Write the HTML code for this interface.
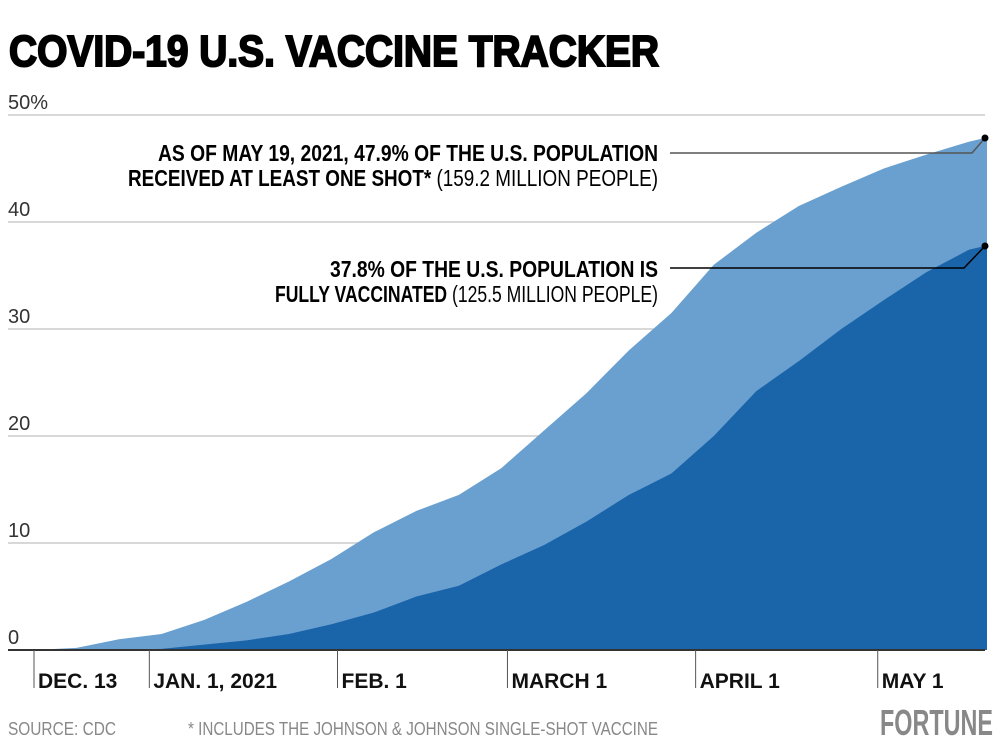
<!DOCTYPE html>
<html><head><meta charset="utf-8"><style>
html,body{margin:0;padding:0;background:#fff;}
svg{display:block;}
text{font-family:"Liberation Sans Narrow","Liberation Sans",sans-serif;}
</style></head><body>
<svg id="chart" width="1001" height="754" viewBox="0 0 1001 754" xmlns="http://www.w3.org/2000/svg">
<text x="9" y="66" font-size="44" font-weight="bold" fill="#000" stroke="#000" stroke-width="2" textLength="650" lengthAdjust="spacingAndGlyphs">COVID-19 U.S. VACCINE TRACKER</text>
<g id="grid"></g>
<g id="areas"></g>
<g id="xaxis"></g>
<g id="annot">
<polyline points="670,153 972,153 985,138" fill="none" stroke="#555" stroke-width="1.5"/>
<polyline points="670,268 964,268 985,246" fill="none" stroke="#000" stroke-width="1.5"/>
<circle cx="985" cy="138" r="3.5" fill="#000"/>
<circle cx="985" cy="246" r="3.5" fill="#000"/>
<text x="658" y="161" text-anchor="end" font-size="23" font-weight="bold" textLength="500" lengthAdjust="spacingAndGlyphs">AS OF MAY 19, 2021, 47.9% OF THE U.S. POPULATION</text>
<text x="658" y="186" text-anchor="end" font-size="23" textLength="530" lengthAdjust="spacingAndGlyphs"><tspan font-weight="bold">RECEIVED AT LEAST ONE SHOT*</tspan> (159.2 MILLION PEOPLE)</text>
<text x="658" y="277" text-anchor="end" font-size="23" font-weight="bold" textLength="328" lengthAdjust="spacingAndGlyphs">37.8% OF THE U.S. POPULATION IS</text>
<text x="658" y="302" text-anchor="end" font-size="23" textLength="383" lengthAdjust="spacingAndGlyphs"><tspan font-weight="bold">FULLY VACCINATED</tspan> (125.5 MILLION PEOPLE)</text>
</g>
<text x="8" y="735" font-size="18" fill="#888" textLength="108" lengthAdjust="spacingAndGlyphs">SOURCE: CDC</text>
<text x="188" y="735" font-size="18" fill="#888" textLength="470" lengthAdjust="spacingAndGlyphs">* INCLUDES THE JOHNSON &amp; JOHNSON SINGLE-SHOT VACCINE</text>
<text x="880" y="735" font-size="36" font-weight="bold" fill="#888" textLength="113" lengthAdjust="spacingAndGlyphs">FORTUNE</text>
</svg>
<script>
const days = [0,7,14,21,28,35,42,49,56,63,70,77,84,91,98,105,112,119,126,133,140,147,154,157];
const atLeastOne = [0,0.2,1.0,1.5,2.8,4.5,6.4,8.5,11,13,14.5,17,20.5,24,28,31.5,36,39,41.5,43.3,45,46.3,47.5,47.9];
const fully = [0,0,0,0.1,0.5,0.9,1.5,2.4,3.5,5,6,8,9.8,12,14.5,16.5,20,24.2,27,30,32.7,35.3,37.4,37.8];
const yTicks = [0,10,20,30,40,50];
const yTickLabels = ["0","10","20","30","40","50%"];
const xTickDays = [0,19,50,78,109,139];
const xTickLabels = ["DEC. 13","JAN. 1, 2021","FEB. 1","MARCH 1","APRIL 1","MAY 1"];
const NS="http://www.w3.org/2000/svg";
const x = d => 34 + d*6.07;
const y = v => 650 - v*10.7;
function mk(tag, attrs, parent){const e=document.createElementNS(NS,tag);for(const k in attrs)e.setAttribute(k,attrs[k]);parent.appendChild(e);return e;}
const grid=document.getElementById('grid');
yTicks.forEach((t,i)=>{
  if(t>0){const l=mk('line',{x1:8,x2:985,y1:y(t),y2:y(t),stroke:'#ccc','stroke-width':1.5},grid);
  
  }
  const tx=mk('text',{x:8,y:y(t)-6,'font-size':20,fill:'#333'},grid);
  
  
  tx.textContent=yTickLabels[i];
});
const areas=document.getElementById('areas');
function areaPath(vals){let p='M'+x(days[0])+','+y(0);days.forEach((d,i)=>{p+=' L'+x(d).toFixed(1)+','+y(vals[i]).toFixed(1);});p+=' L'+x(days[days.length-1])+','+y(0)+' Z';return p;}
const a1=mk('path',{d:areaPath(atLeastOne),fill:'#6aa0cf'},areas);


const a2=mk('path',{d:areaPath(fully),fill:'#1a64aa'},areas);


const xa=document.getElementById('xaxis');
const base=mk('line',{x1:8,x2:985,y1:650,y2:650,stroke:'#333','stroke-width':2},xa);


xTickDays.forEach((d,i)=>{
  const l=mk('line',{x1:x(d),x2:x(d),y1:650,y2:688,stroke:'#555','stroke-width':1},xa);
  
  
  const t=mk('text',{x:x(d)+4,y:688,'font-size':21,'font-weight':'bold',fill:'#111'},xa);
  
  
  t.textContent=xTickLabels[i];
});
</script>
</body></html>
